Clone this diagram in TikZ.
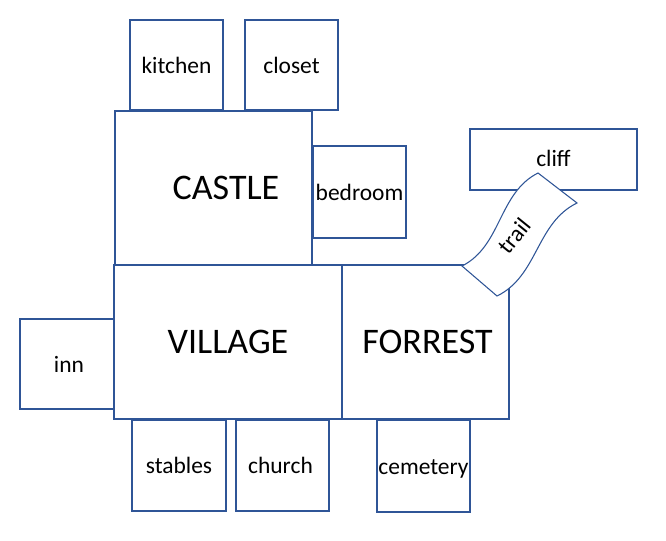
\documentclass[tikz,border=0pt]{standalone}
\usepackage{fontspec}
\setmainfont{Carlito}
\definecolor{roomblue}{HTML}{2F5597}
\begin{document}
\begin{tikzpicture}[x=0.75pt,y=-0.75pt,
  room/.style={draw=roomblue,line width=1.5pt,inner sep=0pt,font=\fontsize{17.6}{20}\selectfont},
  bigroom/.style={room,font=\fontsize{27}{30}\selectfont},
  trailline/.style={draw=roomblue,line width=0.8pt,fill=white}]
\useasboundingbox (0,0) rectangle (666,540);
\node[room,minimum width=0.75pt*93,minimum height=0.75pt*90] (kitchen) at (176.5,65) {kitchen};
\node[room,minimum width=0.75pt*93,minimum height=0.75pt*90] (closet) at (291.5,65) {closet};
\node[bigroom,minimum width=0.75pt*197,minimum height=0.75pt*154,
  label={[font=\fontsize{27}{30}\selectfont,xshift=0.75pt*12.5]center:CASTLE}] (castle) at (213.5,188) {};
\node[room,minimum width=0.75pt*93,minimum height=0.75pt*92] (bedroom) at (359.5,192) {bedroom};
\node[room,minimum width=0.75pt*167,minimum height=0.75pt*61] (cliff) at (553.5,159.5) {\raisebox{2pt}{cliff}};
\node[bigroom,minimum width=0.75pt*228,minimum height=0.75pt*154] (village) at (228,342) {VILLAGE};
\node[bigroom,minimum width=0.75pt*167,minimum height=0.75pt*154] (forrest) at (425.5,342) {\hspace*{3pt}FORREST};
\node[room,minimum width=0.75pt*94,minimum height=0.75pt*90] (inn) at (67,364) {\hspace*{3pt}inn};
\node[room,minimum width=0.75pt*94,minimum height=0.75pt*91] (stables) at (179,465.5) {stables};
\node[room,minimum width=0.75pt*93,minimum height=0.75pt*91] (church) at (282.5,465.5) {\hspace*{-3pt}church};
\node[room,minimum width=0.75pt*93,minimum height=0.75pt*92,
  label={[font=\fontsize{17.6}{20}\selectfont,yshift=-2.5pt]center:cemetery}] (cemetery) at (423.5,466) {};
% trail (wave banner)
\coordinate (tT) at (538,173);
\coordinate (tR) at (577,203);
\coordinate (tB) at (497,296);
\coordinate (tL) at (462,266);
\path[trailline] (tT) -- (tR)
  .. controls (535.9,223) and (538.1,276) .. (tB)
  -- (tL)
  .. controls (501.7,246) and (498.3,193) .. (tT) -- cycle;
\node[font=\fontsize{17.6}{20}\selectfont,rotate=51,inner sep=0pt] (trail) at (514,236) {trail};
\end{tikzpicture}
\end{document}
